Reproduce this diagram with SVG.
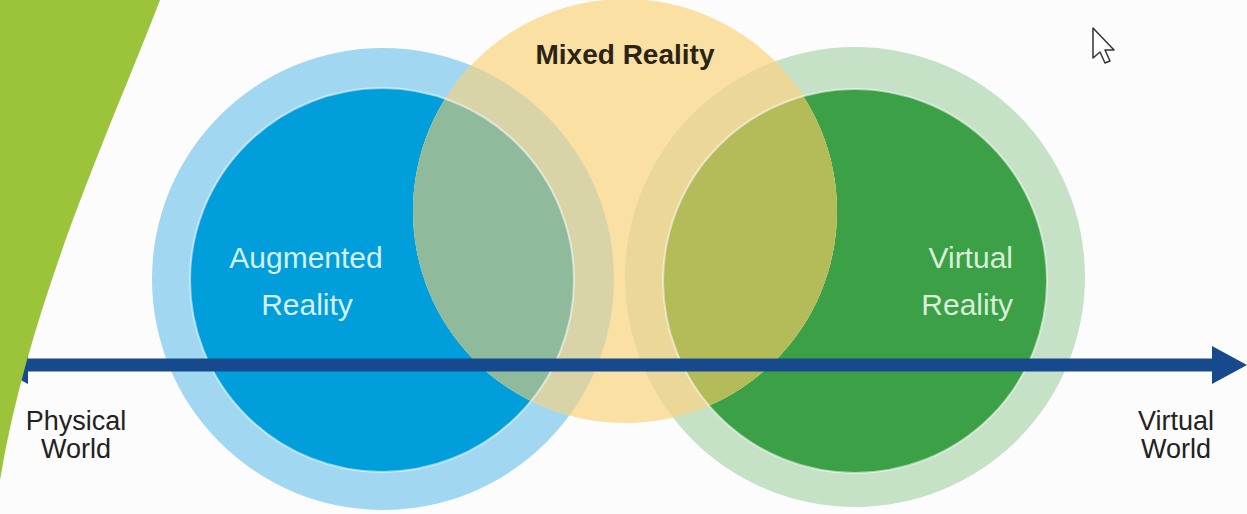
<svg xmlns="http://www.w3.org/2000/svg" width="1247" height="514" viewBox="0 0 1247 514">
  <style>
    .lbl-w { font-family: "Liberation Sans", Arial, sans-serif; font-size: 30px; }
    .lbl-d { font-family: "Liberation Sans", Arial, sans-serif; font-size: 27px; fill: #222222; text-anchor: middle; }
    .inner-edge { stroke: #ffffff; stroke-opacity: 0.55; stroke-width: 2; }
  </style>
  <defs>
    <clipPath id="mrClip"><circle cx="625" cy="211" r="212"/></clipPath>
    <marker id="head" viewBox="0 0 35 38" refX="0" refY="19" markerWidth="35" markerHeight="38" markerUnits="userSpaceOnUse" orient="auto-start-reverse">
      <path d="M0,0 L35,19 L0,38 Z" fill="#174a8c"/>
    </marker>
  </defs>

  <rect width="1247" height="514" fill="#fcfcfc"/>

  <g id="node-ar">
    <circle cx="383" cy="279" r="231" fill="#a1d7f0"/>
    <circle cx="382" cy="280" r="192" fill="#009fdb" class="inner-edge"/>
  </g>

  <g id="node-vr">
    <circle cx="855" cy="277" r="230" fill="#c5e1c6"/>
    <circle cx="855" cy="281" r="192" fill="#3ba046" class="inner-edge"/>
  </g>

  <g id="node-mr">
    <circle cx="625" cy="211" r="212" fill="#fbe0a4"/>
    <g clip-path="url(#mrClip)">
      <circle cx="383" cy="279" r="231" fill="#d9d4a7"/>
      <circle cx="382" cy="280" r="192" fill="#8fba9c" class="inner-edge"/>
      <circle cx="855" cy="277" r="230" fill="#ebd798"/>
      <circle cx="855" cy="281" r="192" fill="#b4bc5a" class="inner-edge"/>
    </g>
    <text x="625" y="64" text-anchor="middle" font-family="'Liberation Sans', Arial, sans-serif" font-size="28" font-weight="bold" fill="#2b2415">Mixed Reality</text>
  </g>

  <g id="labels-ar" class="lbl-w" fill="#d6eff9" text-anchor="middle">
    <text x="306" y="268">Augmented</text>
    <text x="307" y="315">Reality</text>
  </g>
  <g id="labels-vr" class="lbl-w" fill="#d9efd9" text-anchor="end">
    <text x="1013" y="268">Virtual</text>
    <text x="1013" y="315">Reality</text>
  </g>

  <g id="connectors">
    <line x1="28" y1="365" x2="1212" y2="365" stroke="#174a8c" stroke-width="13" marker-start="url(#head)" marker-end="url(#head)"/>
  </g>

  <path id="green-band" d="M0,0 L160,0 C110,130 30,300 0,480 Z" fill="#9bc43b"/>

  <g id="node-physical">
    <text class="lbl-d" x="76" y="430">Physical</text>
    <text class="lbl-d" x="76" y="458">World</text>
  </g>
  <g id="node-virtual">
    <text class="lbl-d" x="1176" y="430">Virtual</text>
    <text class="lbl-d" x="1176" y="458">World</text>
  </g>

  <path id="cursor" d="M1093,28 L1093,58 L1100,52 L1105,63 L1110,61 L1105,50 L1114,50 Z" fill="#ffffff" stroke="#333333" stroke-width="1.5" stroke-linejoin="round"/>
</svg>
